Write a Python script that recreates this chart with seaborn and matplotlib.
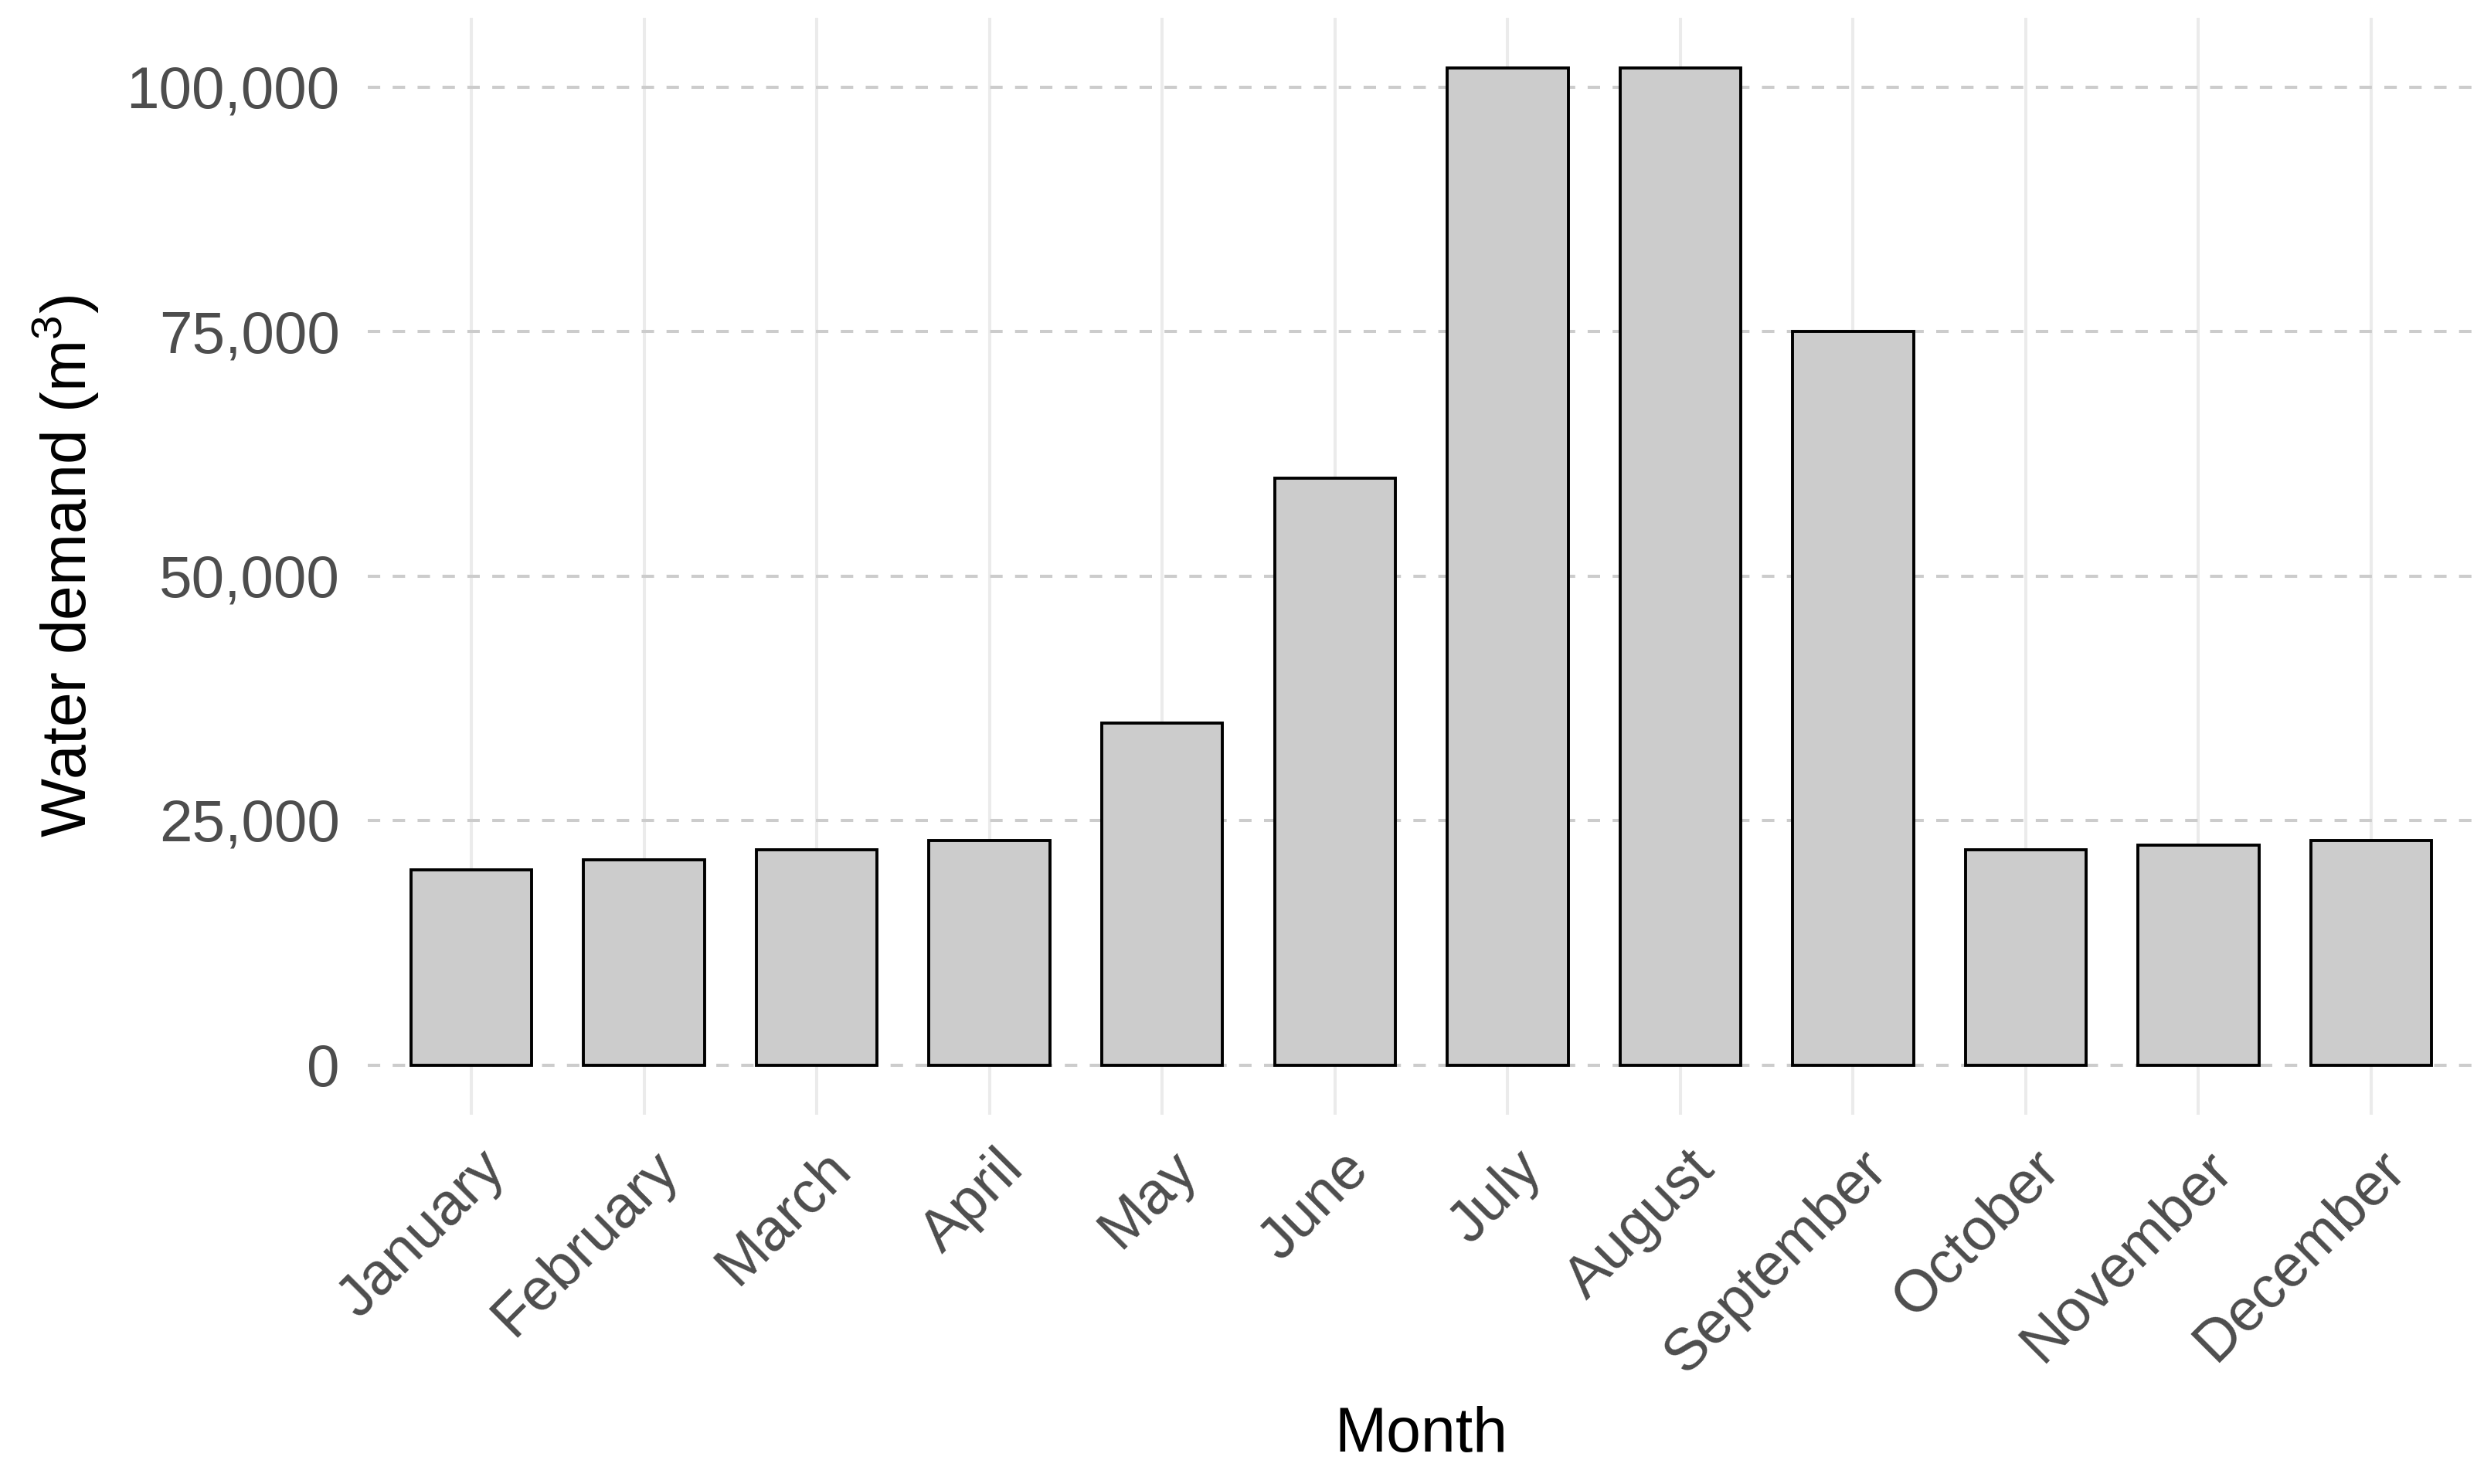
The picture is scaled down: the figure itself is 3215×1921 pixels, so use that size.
# Monthly water demand bar chart (ggplot theme_minimal look)

import numpy as np
import pandas as pd
import seaborn as sns
import matplotlib.pyplot as plt
import matplotlib.transforms as mtransforms
from matplotlib.ticker import FuncFormatter

# %%
# data
months = ['January', 'February', 'March', 'April', 'May', 'June', 'July',
          'August', 'September', 'October', 'November', 'December']
demand = [20000, 21000, 22000, 23000, 35000, 60000, 102000,
          102000, 75000, 22000, 22500, 23000]
y_ticks = [0, 25000, 50000, 75000, 100000]

data = pd.DataFrame({'month': months, 'demand': demand})

# %%
sns.set_style('white')
plt.rcParams['font.family'] = ['Liberation Sans', 'DejaVu Sans']
plt.rcParams['mathtext.fontset'] = 'custom'
plt.rcParams['mathtext.rm'] = 'Liberation Sans'
plt.rcParams['mathtext.it'] = 'Liberation Sans:italic'

fig, ax = plt.subplots(figsize=(16.08, 9.605), dpi=200)
fig.subplots_adjust(left=0.148, right=0.996, top=0.988, bottom=0.2486)

sns.barplot(data=data, x='month', y='demand', color='#CCCCCC', saturation=1,
            edgecolor='black', linewidth=1.4, width=0.7, ax=ax, zorder=3)

ax.set_xlim(-0.6, len(months) - 0.4)
ax.set_ylim(-5100, 107100)
ax.set_yticks(y_ticks)
ax.yaxis.set_major_formatter(FuncFormatter(lambda v, p: f'{int(v):,}'))

# grid: solid light vertical lines, dashed horizontal lines
ax.grid(axis='x', color='#EBEBEB', linewidth=1.45, linestyle='-', zorder=0)
ax.grid(axis='y', color='#CCCCCC', linewidth=1.45, linestyle=(0, (4, 4)), zorder=1)
ax.set_axisbelow(True)
sns.despine(ax=ax, left=True, bottom=True)

ax.tick_params(axis='both', length=0, labelsize=27.5, labelcolor='#4D4D4D')
ax.tick_params(axis='y', pad=13)
ax.tick_params(axis='x', pad=12)
# nudge the rotated month labels a little to the right, like the original
shift = mtransforms.ScaledTranslation(8 / 200, 0, fig.dpi_scale_trans)
for lab in ax.get_xticklabels():
    lab.set_rotation(45)
    lab.set_ha('right')
    lab.set_va('top')
    lab.set_rotation_mode('anchor')
    lab.set_transform(lab.get_transform() + shift)

ax.set_xlabel('Month', fontsize=29, color='black')
ax.set_ylabel('Water demand (m$^3$)', fontsize=29, color='black')
ax.xaxis.set_label_coords(0.5, -0.265)
ax.yaxis.set_label_coords(-0.127, 0.5)

fig.savefig('out.png', dpi=200)
